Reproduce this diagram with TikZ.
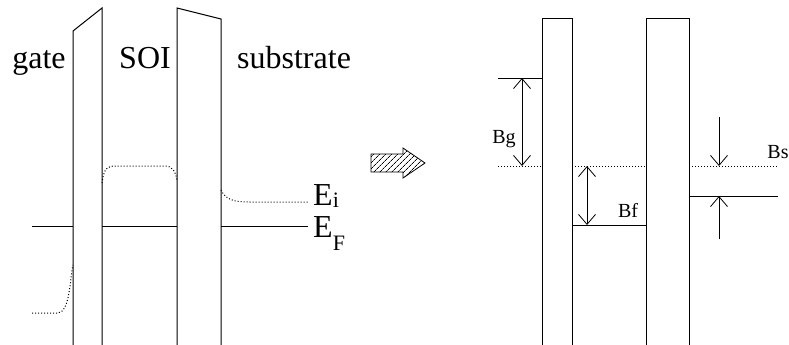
\documentclass[tikz,border=0pt]{standalone}
\usepackage{fontspec}
\setmainfont{Liberation Serif}
\usetikzlibrary{arrows.meta,patterns.meta,positioning}

\begin{document}
\begin{tikzpicture}[
    x=1pt, y=-1pt,
    wall/.style={line width=1pt},
    level/.style={line width=1pt},
    fermi/.style={dotted, line width=1pt},
    gap/.style={{Straight Barb[length=10pt,width=17pt]}-{Straight Barb[length=10pt,width=17pt]}, line width=0.8pt},
    push/.style={-{Straight Barb[length=10pt,width=17pt]}, line width=0.8pt},
    big/.style={font=\fontsize{32}{36}\selectfont, inner sep=0pt},
    band/.style={font=\fontsize{32}{36}\selectfont, inner sep=0pt, anchor=base west},
    small/.style={font=\fontsize{20}{22}\selectfont, inner sep=0pt}
]
\useasboundingbox (0,0) rectangle (789,345);

% Left: band diagram with bias
\draw[wall] (73,345) -- (73,31) -- (102,8) -- (102,345);
\draw[wall] (177,345) -- (177,8) -- (221,19) -- (221,345);

\node[big, anchor=base] (gate) at (39,68) {gate};
\node[big, anchor=base] (soi) at (145,68) {SOI};
\node[big, anchor=base west] (sub) at (237,68) {substrate};

% Fermi level
\foreach \a/\b in {32/73,102/177,221/308} {
  \draw[level] (\a,226) -- (\b,226);
}

% intrinsic level
\draw[fermi] (32,313) -- (58,313) .. controls (70,312) and (70,278) .. (73,265);
\draw[fermi] (102,183) .. controls (104,168) and (107,166) .. (116,166) -- (164,166) .. controls (172,166) and (175,170) .. (177,180);
\draw[fermi] (221,190) .. controls (226,200) and (234,202) .. (250,202) -- (308,202);

\node[band] (Ei) at (313,205) {E{\fontsize{22}{22}\selectfont\raisebox{-2pt}{i}}};
\node[band] (EF) at (313,237) {E{\fontsize{22}{22}\selectfont\raisebox{-13pt}{F}}};

% Hatched arrow
\draw[line width=0.8pt, pattern={Lines[angle=45,distance=4pt,line width=0.8pt]}] (371,154) -- (403,154) -- (403,148) -- (425,163)
  -- (403,178) -- (403,172) -- (371,172) -- cycle;

% Right: flat band picture
\draw[wall] (542,345) -- (542,19) -- (572,19) -- (572,345);
\draw[wall] (646,345) -- (646,19) -- (689,19) -- (689,345);

\draw[level] (498,78) -- (542,78);
\draw[level] (572,225) -- (646,225);
\draw[level] (689,196) -- (778,196);
\foreach \a/\b in {498/542,572/646,689/778} {
  \draw[fermi] (\a,166) -- (\b,166);
}

\coordinate (bgtop) at (522,78);
\coordinate (bgbot) at (522,166);
\coordinate (bftop) at (587,166);
\coordinate (bfbot) at (587,225);
\coordinate (bsup) at (719,117);
\coordinate (bsmid) at (719,166);
\coordinate (bslow) at (719,196);
\coordinate (bsdown) at (719,239);

\draw[gap] (bgtop) -- (bgbot);
\draw[gap] (bftop) -- (bfbot);
\draw[push] (bsup) -- (bsmid);
\draw[push] (bsdown) -- (bslow);

\node[small] (Bg) at (504,139) {Bg};
\node[small] (Bf) at (628,210) {Bf};
\node[small] (Bs) at (778,152) {Bs};

\end{tikzpicture}
\end{document}
